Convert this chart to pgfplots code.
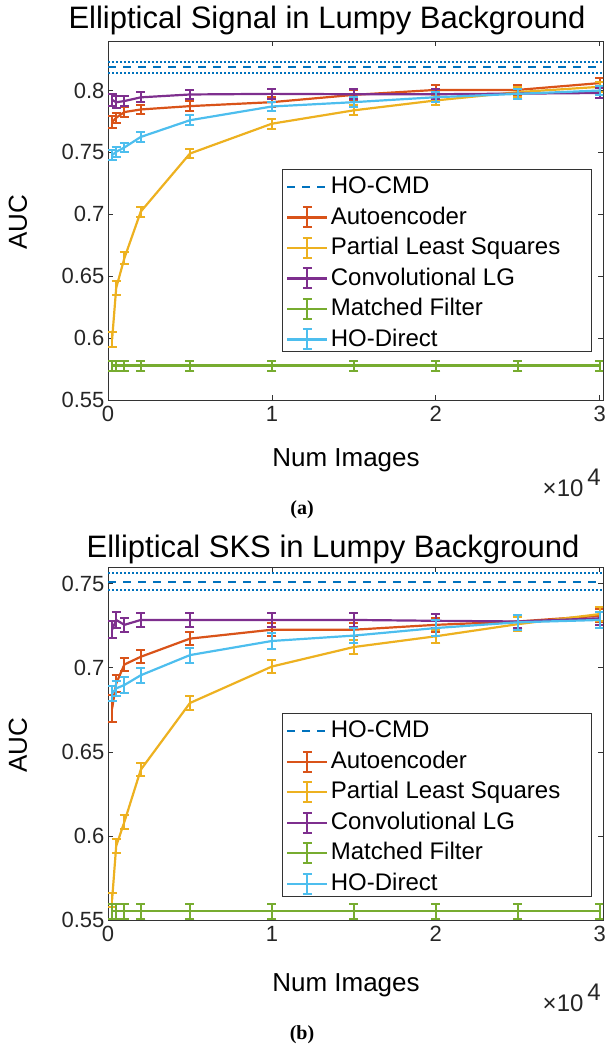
\documentclass[border=0pt]{standalone}
\usepackage{fontspec}
\setmainfont{Liberation Sans}
\newfontfamily\serifbf{Liberation Serif}
\usepackage{pgfplots}
\pgfplotsset{compat=1.18}
\definecolor{mblue}{rgb}{0,0.447,0.741}
\definecolor{mred}{rgb}{0.85,0.325,0.098}
\definecolor{myel}{rgb}{0.929,0.694,0.125}
\definecolor{mpur}{rgb}{0.494,0.184,0.556}
\definecolor{mgrn}{rgb}{0.466,0.674,0.188}
\definecolor{mcyan}{rgb}{0.301,0.745,0.933}
\pgfplotsset{
  panel/.style={
    scale only axis, width=495pt,
    xmin=0, xmax=30200, ymin=0.55,
    xtick={0,10000,20000,30000}, xticklabels={0,1,2,3},
    scaled x ticks=false, scaled y ticks=false,
    tick align=inside, major tick length=5pt,
    axis line style={black!80, line width=0.8pt},
    every tick/.append style={black!80, line width=0.8pt},
    tick label style={font=\fontsize{22}{26}\selectfont, text=black!85},
    xticklabel style={yshift=-3pt},
    /pgf/number format/assume math mode=true,
    legend cell align=left,
    legend style={anchor=north west, at={(0.3515,0.6435)}, font=\fontsize{24}{28}\selectfont,
      draw=none, fill=none, inner xsep=4pt, inner ysep=2.5pt, row sep=0pt,
      nodes={inner sep=2.5pt, text height=19.5pt, text depth=6pt}},
  },
  ebar/.style={color=#1, line width=2.2pt, mark=none, solid,
     error bars/y dir=both, error bars/y explicit,
     error bars/error bar style={line width=2pt, solid},
     error bars/error mark options={rotate=90, mark size=4.5pt, line width=2pt},
     legend image code/.code={
        \draw[##1] (0pt,0pt) -- (40pt,0pt);
        \draw[##1,line width=2pt] (20pt,-10pt) -- (20pt,10pt) (15.5pt,-10pt) -- (24.5pt,-10pt) (15.5pt,10pt) -- (24.5pt,10pt);
     }},
  cmd/.style={color=mblue, line width=2.2pt, dash pattern=on 8pt off 7pt,
     legend image code/.code={\draw[##1] (0pt,0pt) -- (40pt,0pt);}},
  cmddot/.style={color=mblue, line width=2pt, dash pattern=on 2pt off 2pt, forget plot},
}
\begin{document}
\begin{tikzpicture}
\useasboundingbox (0,0) rectangle (605pt,-1053pt);
% ---------------- panel (a)
\begin{axis}[panel, at={(108pt,-400pt)}, anchor=south west, height=359pt, ymax=0.84,
  ytick={0.55,0.6,0.65,0.7,0.75,0.8}, yticklabels={0.55,0.6,0.65,0.7,0.75,0.8}]
\draw[black!80, line width=0.8pt, fill=white] (rel axis cs:0.3515,0.6435) rectangle (rel axis cs:0.9758,0.1365);
\addplot[cmd] coordinates {(0,0.8187) (30200,0.8187)};
\addlegendentry{HO-CMD}
\addplot[cmddot] coordinates {(0,0.8228) (30200,0.8228)};
\addplot[cmddot] coordinates {(0,0.8144) (30200,0.8144)};
\addplot[ebar=mred] table[x=x,y=y,y error=e,row sep=\\] {
x y e\\ 250 0.7745 0.005\\ 500 0.778 0.004\\ 1000 0.7826 0.004\\ 2000 0.7847 0.004\\ 5000 0.7874 0.004\\
10000 0.7906 0.004\\ 15000 0.7965 0.004\\ 20000 0.8005 0.004\\ 25000 0.8005 0.004\\ 30000 0.806 0.004\\};
\addlegendentry{Autoencoder}
\addplot[ebar=myel] table[x=x,y=y,y error=e,row sep=\\] {
x y e\\ 250 0.5988 0.006\\ 500 0.6405 0.006\\ 1000 0.6646 0.005\\ 2000 0.7022 0.004\\ 5000 0.7491 0.004\\
10000 0.7732 0.004\\ 15000 0.784 0.004\\ 20000 0.792 0.004\\ 25000 0.7987 0.004\\ 30000 0.803 0.004\\};
\addlegendentry{Partial Least Squares}
\addplot[ebar=mpur] table[x=x,y=y,y error=e,row sep=\\] {
x y e\\ 250 0.7925 0.005\\ 500 0.7905 0.005\\ 1000 0.7915 0.004\\ 2000 0.7945 0.004\\ 5000 0.7968 0.004\\
10000 0.7973 0.004\\ 15000 0.797 0.004\\ 20000 0.797 0.004\\ 25000 0.7975 0.004\\ 30000 0.798 0.004\\};
\addlegendentry{Convolutional LG}
\addplot[ebar=mgrn] table[x=x,y=y,y error=e,row sep=\\] {
x y e\\ 250 0.5778 0.004\\ 500 0.5778 0.004\\ 1000 0.5778 0.004\\ 2000 0.5778 0.004\\ 5000 0.5778 0.004\\
10000 0.5778 0.004\\ 15000 0.5778 0.004\\ 20000 0.5778 0.004\\ 25000 0.5778 0.004\\ 30000 0.5778 0.004\\};
\addlegendentry{Matched Filter}
\addplot[ebar=mcyan] table[x=x,y=y,y error=e,row sep=\\] {
x y e\\ 250 0.7478 0.004\\ 500 0.7505 0.004\\ 1000 0.754 0.004\\ 2000 0.7625 0.004\\ 5000 0.776 0.004\\
10000 0.7871 0.004\\ 15000 0.7906 0.004\\ 20000 0.7946 0.004\\ 25000 0.7973 0.004\\ 30000 0.800 0.004\\};
\addlegendentry{HO-Direct}
\end{axis}
% ---------------- panel (b)
\begin{axis}[panel, at={(108pt,-920pt)}, anchor=south west, height=353pt, ymax=0.76,
  ytick={0.55,0.6,0.65,0.7,0.75}, yticklabels={0.55,0.6,0.65,0.7,0.75},
  legend style={at={(0.3515,0.5856)}}]
\draw[black!80, line width=0.8pt, fill=white] (rel axis cs:0.3515,0.5856) rectangle (rel axis cs:0.9758,0.068);
\addplot[cmd] coordinates {(0,0.7512) (30200,0.7512)};
\addlegendentry{HO-CMD}
\addplot[cmddot] coordinates {(0,0.7562) (30200,0.7562)};
\addplot[cmddot] coordinates {(0,0.7463) (30200,0.7463)};
\addplot[ebar=mred] table[x=x,y=y,y error=e,row sep=\\] {
x y e\\ 250 0.6758 0.008\\ 500 0.6907 0.005\\ 1000 0.702 0.004\\ 2000 0.7066 0.004\\ 5000 0.7174 0.004\\
10000 0.7227 0.004\\ 15000 0.7227 0.004\\ 20000 0.7256 0.004\\ 25000 0.7276 0.004\\ 30000 0.731 0.004\\};
\addlegendentry{Autoencoder}
\addplot[ebar=myel] table[x=x,y=y,y error=e,row sep=\\] {
x y e\\ 250 0.562 0.004\\ 500 0.594 0.004\\ 1000 0.6084 0.004\\ 2000 0.6394 0.004\\ 5000 0.6791 0.004\\
10000 0.7008 0.004\\ 15000 0.7124 0.004\\ 20000 0.7188 0.004\\ 25000 0.726 0.004\\ 30000 0.732 0.004\\};
\addlegendentry{Partial Least Squares}
\addplot[ebar=mpur] table[x=x,y=y,y error=e,row sep=\\] {
x y e\\ 250 0.7227 0.005\\ 500 0.7285 0.005\\ 1000 0.7256 0.004\\ 2000 0.7285 0.004\\ 5000 0.7285 0.004\\
10000 0.7285 0.004\\ 15000 0.7285 0.004\\ 20000 0.728 0.004\\ 25000 0.7276 0.004\\ 30000 0.7295 0.004\\};
\addlegendentry{Convolutional LG}
\addplot[ebar=mgrn] table[x=x,y=y,y error=e,row sep=\\] {
x y e\\ 250 0.5553 0.0045\\ 500 0.5553 0.0045\\ 1000 0.5553 0.0045\\ 2000 0.5553 0.0045\\ 5000 0.5553 0.0045\\
10000 0.5553 0.0045\\ 15000 0.5553 0.0045\\ 20000 0.5553 0.0045\\ 25000 0.5553 0.0045\\ 30000 0.5553 0.0045\\};
\addlegendentry{Matched Filter}
\addplot[ebar=mcyan] table[x=x,y=y,y error=e,row sep=\\] {
x y e\\ 250 0.6849 0.0045\\ 500 0.6878 0.0045\\ 1000 0.6898 0.0045\\ 2000 0.6956 0.0045\\ 5000 0.7076 0.0045\\
10000 0.716 0.0045\\ 15000 0.7192 0.0045\\ 20000 0.7237 0.0045\\ 25000 0.7271 0.0045\\ 30000 0.7285 0.0045\\};
\addlegendentry{HO-Direct}
\end{axis}
% ---------------- texts
\node[font=\fontsize{31}{36}\selectfont, anchor=base] at (327pt,-28pt) {Elliptical Signal in Lumpy Background};
\node[font=\fontsize{31}{36}\selectfont, anchor=base] at (333pt,-557pt) {Elliptical SKS in Lumpy Background};
\node[font=\fontsize{26}{30}\selectfont, rotate=90] at (18pt,-222pt) {AUC};
\node[font=\fontsize{26}{30}\selectfont, rotate=90] at (18pt,-745pt) {AUC};
\node[font=\fontsize{26}{30}\selectfont] at (346pt,-460pt) {Num Images};
\node[font=\fontsize{26}{30}\selectfont] at (346pt,-985pt) {Num Images};
\node[font=\fontsize{24}{28}\selectfont, text=black!85, anchor=base east, inner sep=0pt] at (601pt,-496pt) {×10\,\raisebox{11pt}{4}};
\node[font=\fontsize{24}{28}\selectfont, text=black!85, anchor=base east, inner sep=0pt] at (601pt,-1011pt) {×10\,\raisebox{11pt}{4}};
\node[font=\serifbf\bfseries\fontsize{20}{24}\selectfont] at (302pt,-510pt) {(a)};
\node[font=\serifbf\bfseries\fontsize{20}{24}\selectfont] at (302pt,-1035pt) {(b)};
\end{tikzpicture}
\end{document}
